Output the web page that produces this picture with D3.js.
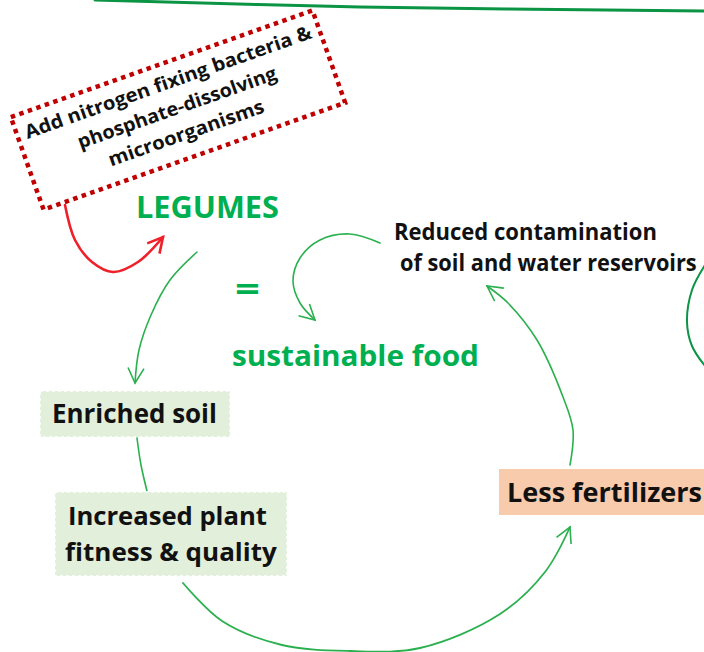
<!DOCTYPE html>
<html>
<head>
<meta charset="utf-8">
<script src="https://cdn.jsdelivr.net/npm/d3@7"></script>
<style>
  body { margin: 0; background: #fff; }
  text { font-family: "Open Sans", Lato, sans-serif; font-weight: bold; }
</style>
</head>
<body>
<svg id="svg"></svg>
<script>
// labels
const noteLines = ["Add nitrogen fixing bacteria &", "phosphate-dissolving", "microorganisms"];
const titleWords = ["LEGUMES", "=", "sustainable food"];
const reducedLines = ["Reduced contamination", "of soil and water reservoirs"];
const soilLines = ["Enriched soil"];
const fitnessLines = ["Increased plant", "fitness & quality"];
const fertLines = ["Less fertilizers"];

const width = 704;
const height = 652;

let svg = d3.select("#svg").attr("width", width).attr("height", height);

const green = "#2bb04f";
const darkGreen = "#0a9444";

// arrow heads
let defs = svg.append("defs");
function addHead(id, color, w) {
    defs.append("marker")
        .attr("id", id)
        .attr("markerUnits", "userSpaceOnUse")
        .attr("viewBox", "-20 -12 24 24")
        .attr("markerWidth", 24)
        .attr("markerHeight", 24)
        .attr("refX", 0)
        .attr("refY", 0)
        .attr("orient", "auto")
        .append("path")
            .attr("d", "M-15,-8 L0,0 L-15,8")
            .attr("fill", "none")
            .attr("stroke", color)
            .attr("stroke-width", w)
            .attr("stroke-linejoin", "miter");
}
addHead("head-green", green, 1.6);
addHead("head-red", "#f0202a", 2.6);

let line = d3.line().curve(d3.curveCatmullRom.alpha(0.5));

function drawCurve(points, color, w, head) {
    let p = svg.append("path")
        .attr("d", line(points))
        .attr("fill", "none")
        .attr("stroke", color)
        .attr("stroke-width", w)
        .attr("stroke-linecap", "round");
    if (head) p.attr("marker-end", "url(#" + head + ")");
    return p;
}

// squeeze a text sideways so it spans w pixels
function fitText(sel, x, y, w, anchorMiddle) {
    let natural = sel.node().getComputedTextLength();
    let k = w / natural;
    let left = anchorMiddle ? x - w / 2 : x;
    sel.attr("x", 0).attr("y", 0)
        .attr("transform", "translate(" + left + "," + y + ") scale(" + k + ",1)");
}

// frame pieces cut by the picture edge
drawCurve([[95, 0], [360, 7], [704, 11]], darkGreen, 3);
drawCurve([[705, 265], [692, 290], [687, 322], [692, 346], [705, 366]], darkGreen, 2);

// connecting arrows
drawCurve([[197, 252], [170, 280], [151, 315], [139, 350], [135, 383]], green, 1.6, "head-green");
drawCurve([[137, 438], [141, 465], [147, 491]], green, 1.6);
drawCurve([[183, 583], [222, 621], [282, 645], [350, 651], [420, 648], [500, 614], [545, 572], [570, 527]], green, 1.8, "head-green");
drawCurve([[570, 465], [573, 430], [563, 397], [537, 340], [508, 303], [487, 286]], green, 1.6, "head-green");
drawCurve([[380, 243], [350, 234], [320, 240], [300, 258], [293, 281], [300, 303], [315, 320]], green, 1.6, "head-green");
drawCurve([[65, 205], [75, 240], [92, 262], [113, 272], [138, 262], [163, 237]], "#f0202a", 2.6, "head-red");

// dotted red note, tilted
let note = svg.append("g").attr("transform", "translate(178,110) rotate(-19.5)");
note.append("rect")
    .attr("x", -160).attr("y", -49)
    .attr("width", 320).attr("height", 98)
    .attr("fill", "#fff")
    .attr("stroke", "#c00000")
    .attr("stroke-width", 4.5)
    .attr("stroke-dasharray", "4.5 4.5");
const noteY = [-23, 4, 31];
const noteW = [303, 210, 164];
noteLines.forEach((t, i) => {
    let s = note.append("text")
        .attr("font-size", 19)
        .attr("font-weight", 600)
        .attr("fill", "#111")
        .text(t);
    fitText(s, 0, noteY[i], noteW[i], true);
});

// green headline words
const titleX = [136, 235, 232];
const titleY = [218, 301, 366];
const titleW = [143, 25, 247];
const titleSize = [29.5, 34, 28];
titleWords.forEach((t, i) => {
    let s = svg.append("text")
        .attr("font-size", titleSize[i])
        .attr("fill", "#00b050")
        .text(t);
    fitText(s, titleX[i], titleY[i], titleW[i], false);
});

// plain label
function drawLabel(lines, xs, ys, ws, size) {
    lines.forEach((t, i) => {
        let s = svg.append("text")
            .attr("font-size", size)
            .attr("fill", "#111")
            .text(t);
        fitText(s, xs[i], ys[i], ws[i], false);
    });
}

// boxes
function drawBox(x, y, w, h, fill, dashed) {
    let r = svg.append("rect")
        .attr("x", x).attr("y", y)
        .attr("width", w).attr("height", h)
        .attr("fill", fill);
    if (dashed) {
        r.attr("stroke", "#fff").attr("stroke-width", 1.5).attr("stroke-dasharray", "3 3");
    }
}

drawLabel(reducedLines, [394, 400], [240, 271], [263, 297], 23);

drawBox(40, 391, 190, 46, "#e2efda", true);
drawLabel(soilLines, [52], [423], [165], 26);

drawBox(55, 492, 232, 84, "#e2efda", true);
drawLabel(fitnessLines, [68, 65], [525, 561], [199, 212], 25);

drawBox(499, 469, 205, 46, "#f8cbad", false);
drawLabel(fertLines, [507], [502], [195], 27);
</script>
</body>
</html>
